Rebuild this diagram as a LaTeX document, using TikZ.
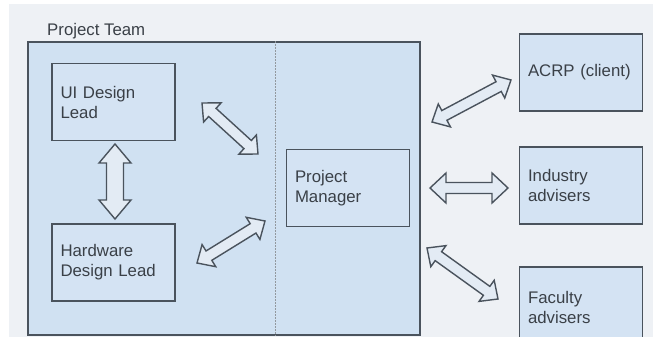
\documentclass[tikz,border=0pt]{standalone}
\usepackage{fontspec}
\setmainfont{Liberation Sans}
\usetikzlibrary{calc}
\definecolor{bgc}{HTML}{EEF1F5}
\definecolor{linec}{HTML}{4A535D}
\definecolor{teamfill}{HTML}{D0E1F2}
\definecolor{boxfill}{HTML}{D4E3F3}
\definecolor{txtc}{HTML}{3A4047}
\definecolor{arrfill}{HTML}{E3EBF4}
\tikzset{
  box/.style={draw=linec, line width=1.5pt, fill=boxfill, rectangle,
    minimum width=123pt, minimum height=77pt, text width=106pt,
    inner xsep=8.5pt, align=left, font=\fontsize{16.8}{20}\selectfont, text=txtc},
  teambox/.style={draw=linec, line width=1.9pt, fill=teamfill, rectangle,
    minimum width=392pt, minimum height=293pt, inner sep=0pt},
  barrow/.style={draw=linec, line width=1.4pt, fill=arrfill, line join=miter},
  divider/.style={draw=linec!60, line width=0.8pt, dash pattern=on 1.5pt off 1.5pt},
  lbl/.style={font=\fontsize{16.8}{20}\selectfont, text=txtc, inner sep=0pt}
}
% #1,#2 coordinate names; #3 shaft half width; #4 head half width; #5 head length
\newcommand\blockarrow[5]{%
  \pgfpointdiff{\pgfpointanchor{#1}{center}}{\pgfpointanchor{#2}{center}}%
  \pgfgetlastxy\bdx\bdy
  \pgfmathsetmacro\bang{atan2(\bdy,\bdx)}%
  \pgfmathsetmacro\bhl{veclen(\bdx,\bdy)/2}%
  \pgfmathsetmacro\bhb{\bhl-#5}%
  \begin{scope}[shift={($(#1)!0.5!(#2)$)}, rotate=\bang]
    \draw[barrow] (-\bhl pt,0) -- (-\bhb pt,#4pt) -- (-\bhb pt,#3pt) -- (\bhb pt,#3pt)
      -- (\bhb pt,#4pt) -- (\bhl pt,0) -- (\bhb pt,-#4pt) -- (\bhb pt,-#3pt)
      -- (-\bhb pt,-#3pt) -- (-\bhb pt,-#4pt) -- cycle;
  \end{scope}}
\begin{document}
\begin{tikzpicture}[x=1pt,y=-1pt]
\useasboundingbox (0,0) rectangle (653,337);
\fill[bgc] (0,0) rectangle (653,337);
\fill[white] (0,0) rectangle (9,337);
\fill[white] (0,0) rectangle (653,4);
% project team container
\node[teambox] (team) at (224,188.5) {};
\node[lbl, anchor=base west] (teamlbl) at (47,36) {Project Team};
\draw[divider] ([xshift=51pt]team.north) -- ([xshift=51pt]team.south);
% boxes
\node[box] (ui) at (113.5,102) {UI Design\\Lead};
\node[box] (hw) at (113.5,262.5) {Hardware\\Design Lead};
\node[box] (pm) at (348,188) {Project\\Manager};
\node[box] (acrp) at (581,72.5) {ACRP (client)};
\node[box] (ind) at (581,185.5) {Industry\\advisers};
\node[box, minimum height=80pt] (fac) at (581,307) {Faculty\\advisers};
% arrow end points
\coordinate (a1s) at (202,103);
\coordinate (a1e) at (258,154);
\coordinate (a2s) at (115,144);
\coordinate (a2e) at (115,219);
\coordinate (a3s) at (197,263);
\coordinate (a3e) at (265,221);
\coordinate (a4s) at (432,122);
\coordinate (a4e) at (511,80);
\coordinate (a5s) at (430,188);
\coordinate (a5e) at (508,188);
\coordinate (a6s) at (427,248);
\coordinate (a6e) at (498,299);
\blockarrow{a1s}{a1e}{5.5}{13}{14}
\blockarrow{a2s}{a2e}{8.5}{16}{19}
\blockarrow{a3s}{a3e}{5.5}{13}{14}
\blockarrow{a4s}{a4e}{5.5}{13}{14}
\blockarrow{a5s}{a5e}{5.5}{15}{16}
\blockarrow{a6s}{a6e}{5.5}{13}{14}
\end{tikzpicture}
\end{document}
